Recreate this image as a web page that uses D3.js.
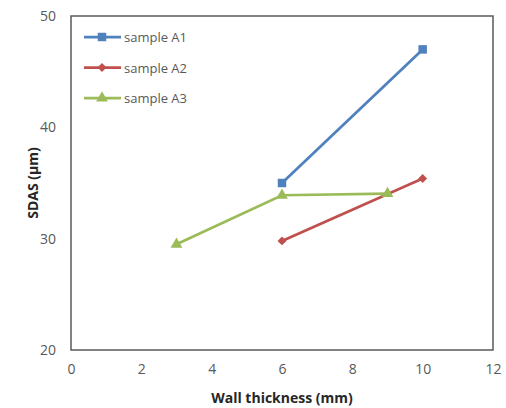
<!DOCTYPE html>
<html>
<head>
<meta charset="utf-8">
<script src="https://cdn.jsdelivr.net/npm/d3@7"></script>
<style>
  body { margin: 0; background: #fff; }
  text { font-family: "Open Sans", "Noto Sans", sans-serif; }
</style>
</head>
<body>
<div id="chart"></div>
<script>
// values
var seriesNames = ['sample A1', 'sample A2', 'sample A3']
var colors = ['#4F81BD', '#C0504D', '#9BBB59']
var a1 = [[6, 35.0], [10, 47.0]]
var a2 = [[6, 29.8], [10, 35.4]]
var a3 = [[3, 29.5], [6, 33.9], [9, 34.05]]
var xTicks = [0, 2, 4, 6, 8, 10, 12]
var yTicks = [20, 30, 40, 50]

var width = 506, height = 408
var margin = {top: 16, right: 13, bottom: 58, left: 71}

var svg = d3.select('#chart').append('svg').attr('width', width).attr('height', height)

var x = d3.scaleLinear().domain([0, 12]).range([margin.left, width - margin.right])
var y = d3.scaleLinear().domain([20, 50]).range([height - margin.bottom, margin.top])

// frame
svg.append('rect')
  .attr('x', x(0)).attr('y', y(50))
  .attr('width', x(12) - x(0)).attr('height', y(20) - y(50))
  .attr('fill', 'none').attr('stroke', '#595959').attr('stroke-width', 1.5)

var xAxis = svg.append('g').attr('transform', 'translate(0,' + (y(20) + 8) + ')')
  .call(d3.axisBottom(x).tickValues(xTicks).tickSize(0).tickPadding(6))
var yAxis = svg.append('g').attr('transform', 'translate(' + (x(0) - 9) + ',0)')
  .call(d3.axisLeft(y).tickValues(yTicks).tickSize(0).tickPadding(6))
;[xAxis, yAxis].forEach(function(g){
  g.select('.domain').remove()
  g.selectAll('text').style('font-size', '14px').attr('fill', '#595959')
})

svg.append('text').attr('x', (x(0) + x(12)) / 2).attr('y', 403)
  .attr('text-anchor', 'middle').style('font-size', '14px').style('font-weight', 'bold')
  .attr('fill', '#262626').text('Wall thickness (mm)')
svg.append('text').attr('transform', 'translate(38,' + ((y(20) + y(50)) / 2) + ') rotate(-90)')
  .attr('text-anchor', 'middle').style('font-size', '14px').style('font-weight', 'bold')
  .attr('fill', '#262626').text('SDAS (μm)')

var line = d3.line().x(function(d){ return x(d[0]) }).y(function(d){ return y(d[1]) })
var symbols = [d3.symbolSquare, d3.symbolSquare, d3.symbolTriangle]
var sizes = [72, 40, 60]

function marker(g, i, px, py) {
  var s = d3.symbol().type(symbols[i]).size(sizes[i])
  g.append('path').attr('d', s).attr('fill', colors[i])
    .attr('transform', 'translate(' + px + ',' + py + ')' + (i == 1 ? ' rotate(45)' : ''))
}

;[a1, a2, a3].forEach(function(data, i){
  var g = svg.append('g')
  g.append('path').datum(data).attr('d', line)
    .attr('fill', 'none').attr('stroke', colors[i]).attr('stroke-width', 2.75)
  data.forEach(function(d){ marker(g, i, x(d[0]), y(d[1])) })
})

// legend
var leg = svg.append('g')
seriesNames.forEach(function(name, i){
  var ly = 37 + i * 30.5
  leg.append('line').attr('x1', 84).attr('x2', 121).attr('y1', ly).attr('y2', ly)
    .attr('stroke', colors[i]).attr('stroke-width', 2.75)
  marker(leg, i, 102, ly)
  leg.append('text').attr('x', 124).attr('y', ly + 5).style('font-size', '13px')
    .attr('fill', '#595959').text(name)
})
</script>
</body>
</html>
